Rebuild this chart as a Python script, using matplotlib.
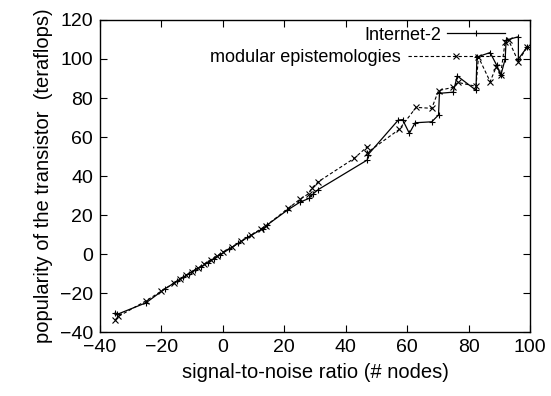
import numpy as np
import matplotlib
matplotlib.use("Agg")
import matplotlib.pyplot as plt

plt.rcParams['font.family'] = ['Liberation Sans', 'DejaVu Sans']

# Internet-2 (solid, +)
x1 = [-35, -34.5, -25, -19, -15, -13, -11, -9, -7, -5, -3, -1, 2, 5, 8,
      13, 14.5, 21, 25, 28, 29.5, 31, 47, 47.3, 57.1, 58.5, 60.7, 62.6, 68,
      70.2, 70.5, 75, 76.3, 82.4, 82.7, 87, 89.1, 90.5, 91.9, 92.2, 96.2,
      96.2, 99]
y1 = [-30, -31, -25, -18, -14, -12, -10, -8, -6.5, -4.5, -2.5, -0.5, 2.5,
      5.5, 8.5, 13, 15, 22.5, 26.5, 28.5, 31, 33, 48.2, 51, 68.7, 68.9, 61.9,
      67.3, 67.8, 71.3, 82.4, 83, 91.3, 84, 101, 103.3, 96.9, 91.8, 100,
      109.7, 111.4, 100, 106]

# modular epistemologies (dashed, x)
x2 = [-35, -34, -25, -20, -16, -14, -12, -10, -8, -6, -4, -2, 0, 3, 6, 9,
      12.5, 14, 21.3, 25, 28, 28.9, 31, 42.7, 47, 47, 57.4, 62.9, 68,
      70.2, 75, 76.5, 82.4, 83.2, 87, 89, 90.4, 91.9, 93, 96.2, 98.9]
y2 = [-34, -32, -24, -19, -15, -13, -11, -9, -7, -5, -3, -1, 1, 3.5, 6.5,
      9.5, 13, 14.5, 23.4, 28, 31, 33.7, 37, 49, 55, 52, 63.9, 75.2,
      74.7, 83.8, 85.5, 88, 86, 101, 88.4, 96, 91.8, 108.9, 109.7, 98.6, 106]

fig = plt.figure(figsize=(5.51, 3.96), dpi=100)
ax = fig.add_axes([0.1815, 0.1616, 0.7805, 0.7879])

l1, = ax.plot(x1, y1, '-', color='black', lw=0.9, marker='+', ms=5, mew=0.8)
l2, = ax.plot(x2, y2, '--', color='black', lw=0.8, marker='x', ms=4, mew=0.8,
              dashes=(3, 2))

ax.set_xlim(-40, 100)
ax.set_ylim(-40, 120)
ax.set_xticks(np.arange(-40, 101, 20))
ax.set_yticks(np.arange(-40, 121, 20))
ax.tick_params(direction='in', top=True, right=True, length=5, width=0.8,
               labelsize=14, pad=5)
for s in ax.spines.values():
    s.set_linewidth(1)

ax.set_xlabel('signal-to-noise ratio (# nodes)', fontsize=14.5, labelpad=5)
ax.set_ylabel('popularity of the transistor  (teraflops)', fontsize=14.5,
              labelpad=5)

# gnuplot-style key: each row has its own sample length
leg1 = ax.legend([l1], ['Internet-2'], loc='center right',
                 bbox_to_anchor=(505 / 551, 1 - 35 / 396),
                 bbox_transform=fig.transFigure, frameon=False,
                 markerfirst=False, handlelength=3.2, handletextpad=0.35,
                 borderpad=0, borderaxespad=0, fontsize=13)
ax.add_artist(leg1)
ax.legend([l2], ['modular epistemologies'], loc='center right',
          bbox_to_anchor=(505 / 551, 1 - 58 / 396),
          bbox_transform=fig.transFigure, frameon=False,
          markerfirst=False, handlelength=5.4, handletextpad=0.4,
          borderpad=0, borderaxespad=0, fontsize=13)

fig.savefig('out.png', dpi=100)
